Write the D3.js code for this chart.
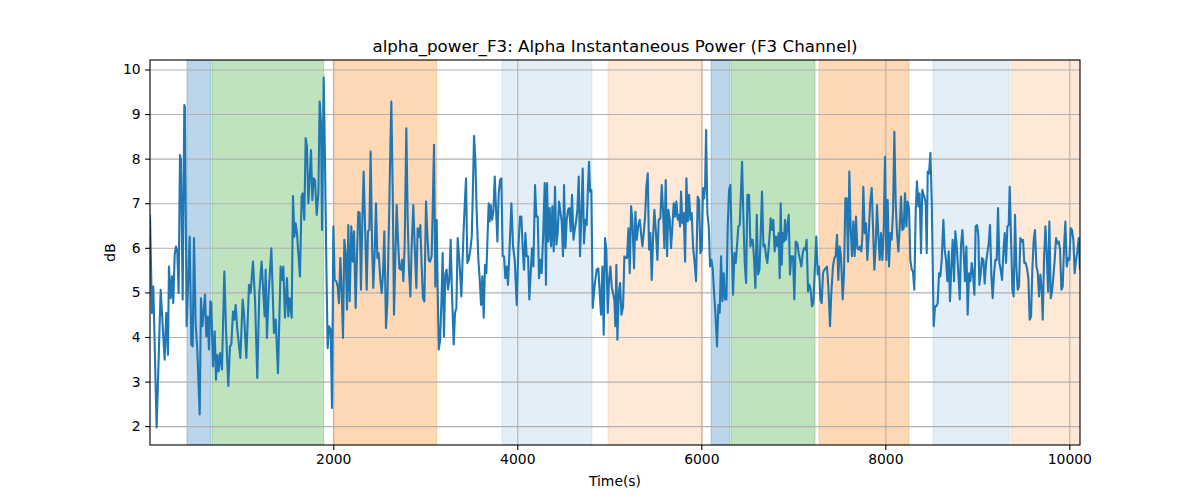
<!DOCTYPE html>
<html>
<head>
<meta charset="utf-8">
<script src="https://cdn.jsdelivr.net/npm/d3@7"></script>
<style>
  body { margin: 0; background: #fff; }
  svg { font-family: "DejaVu Sans", sans-serif; }
</style>
</head>
<body>
<div id="chart"></div>
<script>
// Chart texts
const TITLE = "alpha_power_F3: Alpha Instantaneous Power (F3 Channel)";
const X_LABEL = "Time(s)";
const Y_LABEL = "dB";

// Tick values
const xTicks = [2000, 4000, 6000, 8000, 10000];
const yTicks = [2, 3, 4, 5, 6, 7, 8, 9, 10];

// Shaded intervals (start, end, kind)
const spanStarts = [410, 682, 2000, 3834, 4986, 6106, 6323, 7280, 8519, 9367];
const spanEnds = [668, 1896, 3124, 4812, 6011, 6309, 7236, 8258, 9348, 10116];
const spanKinds = ["A", "B", "C", "D", "E", "A", "B", "C", "D", "E"];

// Series: time (s)
const times = [
  8, 29, 44, 80, 124, 167, 185, 203, 214, 232, 247, 261, 276, 290, 305, 319, 334, 345, 363, 381,
  388, 406, 439, 457, 472, 486, 504, 522, 548, 562, 577, 587, 606, 620, 635, 649, 664, 674, 692, 711,
  725, 740, 754, 769, 790, 816, 834, 859, 877, 892, 910, 924, 939, 957, 990, 1015, 1029, 1055, 1084, 1102,
  1127, 1149, 1174, 1196, 1221, 1254, 1265, 1279, 1298, 1327, 1355, 1374, 1399, 1428, 1442, 1457, 1475, 1497, 1511, 1526,
  1548, 1562, 1577, 1591, 1605, 1638, 1656, 1667,
  1685, 1700, 1714, 1729, 1743, 1758, 1772, 1787, 1801, 1820, 1838, 1852, 1867, 1878, 1896, 1910, 1925, 1939, 1954, 1972,
  1986, 2001, 2015, 2033, 2048, 2062, 2077, 2091, 2106, 2120, 2135, 2149, 2164, 2178, 2196, 2211, 2225, 2243, 2262, 2272,
  2287, 2301, 2316, 2330, 2345, 2363, 2377, 2392, 2406, 2421, 2435, 2450, 2464, 2479, 2493, 2512, 2526, 2541, 2555, 2573,
  2588, 2606, 2620, 2631, 2646, 2660, 2675, 2689, 2704, 2718, 2733, 2747, 2762, 2776, 2794, 2809, 2823, 2838, 2852, 2870,
  2885, 2903, 2917, 2932, 2946, 2961, 2975, 2990, 3008, 3022, 3037, 3051, 3069, 3080, 3095, 3109, 3124, 3135, 3146, 3160,
  3175, 3189, 3203, 3218, 3232, 3247, 3261, 3276, 3290, 3309, 3323, 3338, 3352,
  3370, 3392, 3414, 3428, 3443, 3457, 3472, 3490, 3505, 3515, 3530, 3544, 3559, 3577, 3591, 3606, 3620, 3635, 3649, 3664,
  3678, 3689, 3700, 3711, 3726, 3740, 3755, 3769, 3784, 3798, 3813, 3827, 3841, 3856, 3870, 3885, 3899, 3914, 3936, 3954,
  3972, 3994, 4012, 4030, 4044, 4059, 4073, 4088, 4102, 4117, 4131, 4146, 4160, 4175, 4193, 4207, 4222, 4236, 4251, 4265,
  4283, 4298, 4312, 4323, 4338, 4352, 4367, 4381, 4396, 4410, 4425, 4439, 4454, 4468, 4483, 4497, 4508, 4523, 4537, 4552,
  4566, 4581, 4595, 4610, 4624, 4639, 4653, 4668, 4682, 4697, 4711, 4725, 4740, 4754, 4769, 4780, 4791, 4805, 4820, 4841,
  4863, 4881, 4896, 4910, 4925, 4939, 4954, 4968, 4983, 4997, 5012, 5026,
  5055, 5066, 5077, 5088, 5103, 5117, 5132, 5150, 5164, 5179, 5193, 5208, 5222, 5237, 5251, 5269, 5284, 5298, 5313, 5331,
  5345, 5360, 5374, 5389, 5403, 5418, 5432, 5447, 5461, 5476, 5490, 5505, 5523, 5537, 5555, 5570, 5584, 5599, 5613, 5628,
  5642, 5657, 5671, 5686, 5700, 5715, 5729, 5744, 5758, 5769, 5780, 5795, 5809, 5824, 5838, 5853, 5867, 5882, 5896, 5911,
  5925, 5943, 5961, 5976, 5990, 6005, 6019, 6030, 6041, 6052, 6066, 6081, 6095, 6110, 6124, 6139, 6157, 6171, 6186, 6200,
  6215, 6229, 6244, 6258, 6273, 6287, 6302, 6316, 6331, 6345, 6360, 6374, 6389, 6403, 6418, 6432, 6443, 6458, 6472, 6487,
  6501, 6512, 6519, 6534, 6545, 6559, 6574, 6588, 6603, 6617, 6632, 6646, 6660, 6675, 6689, 6704, 6718, 6733,
  6739, 6754, 6768, 6783, 6797, 6812, 6826, 6841, 6852, 6863, 6874, 6884, 6899, 6910, 6921, 6935, 6950, 6964, 6979, 6997,
  7011, 7026, 7044, 7058, 7073, 7087, 7102, 7116, 7131, 7145, 7160, 7174, 7189, 7203, 7218, 7232, 7250, 7265, 7279, 7294,
  7308, 7323, 7337, 7352, 7366, 7381, 7399, 7413, 7431, 7446, 7460, 7475, 7489, 7504, 7518, 7537, 7551, 7566, 7580, 7595,
  7609, 7624, 7638, 7652, 7667, 7681, 7696, 7710, 7725, 7739, 7750, 7761, 7776, 7790, 7805, 7819, 7834, 7852, 7866, 7881,
  7895, 7910, 7924, 7939, 7953, 7968, 7982, 7997, 8011, 8026, 8040, 8055, 8069, 8084, 8098, 8113, 8127, 8142, 8156, 8171,
  8185, 8200, 8214, 8229, 8243, 8258, 8272, 8287, 8301, 8315, 8330, 8344, 8359, 8373, 8388, 8402, 8417,
  8424, 8439, 8450, 8461, 8475, 8490, 8504, 8526, 8540, 8555, 8569, 8584, 8598, 8613, 8631, 8645, 8660, 8674, 8689, 8703,
  8718, 8732, 8747, 8761, 8776, 8794, 8809, 8823, 8838, 8852, 8866, 8881, 8895, 8910, 8924, 8939, 8953, 8968, 8982, 8997,
  9011, 9022, 9037, 9051, 9066, 9080, 9095, 9109, 9124, 9138, 9153, 9167, 9182, 9196, 9211, 9225, 9240, 9254, 9269, 9283,
  9298, 9312, 9327, 9341, 9352, 9366, 9381, 9395, 9410, 9424, 9439, 9453, 9468, 9482, 9497, 9511, 9526, 9540, 9555, 9569,
  9584, 9598, 9613, 9627, 9642, 9656, 9671, 9685, 9700, 9711, 9725, 9740, 9754, 9769, 9783, 9798, 9812, 9827, 9841, 9856,
  9870, 9885, 9899, 9914, 9928, 9943, 9957, 9972, 9986, 10001, 10015, 10029, 10044, 10058, 10073, 10087, 10102, 10116
];

// Series: alpha power (dB)
const dbValues = [
  6.74, 4.54, 5.13, 1.97, 5.06, 3.49, 4.54, 3.6, 5.58, 4.87, 5.36, 4.76, 5.84, 6.03, 5.92, 4.99, 8.08, 7.97, 4.84, 9.2,
  9.16, 4.24, 6.25, 3.83, 3.79, 6.22, 4.31, 3.72, 2.26, 4.87, 4.24, 4.46, 4.95, 4.01, 4.46, 3.72, 4.8, 4.76, 3.34, 4.13,
  3.04, 3.6, 3.23, 3.64, 3.27, 5.47, 4.16, 2.9, 3.79, 3.83, 4.57, 4.39, 4.72, 4.16, 3.53, 4.84, 4.54, 3.53, 5.17, 4.99,
  5.69, 4.87, 3.08, 4.99, 5.69, 4.46, 5.51, 3.98, 4.99, 5.99, 4.09, 4.39, 3.19, 5.58, 5.28, 5.58, 4.43, 5.32, 4.46, 4.87,
  4.43, 7.16, 6.25, 6.55, 6.33, 5.36, 7.15, 7.22,
  6.63, 8.46, 8.27, 7.0, 7.52, 8.19, 7.07, 7.56, 7.52, 6.74, 7.22, 9.28, 8.79, 6.4, 9.82, 7.97, 5.58, 3.75, 4.24, 4.16,
  2.41, 6.48, 5.28, 5.25, 5.13, 4.76, 5.77, 5.06, 3.98, 6.18, 5.88, 4.61, 6.51, 4.8, 6.48, 5.69, 6.37, 4.65, 6.18, 6.81,
  6.78, 5.06, 6.63, 7.71, 6.51, 5.06, 6.37, 6.4, 8.16, 6.14, 5.1, 5.88, 7.0, 5.77, 5.88, 5.28, 4.99, 5.43, 6.37, 4.2,
  4.8, 6.63, 8.19, 9.28, 7.26, 4.5, 5.81, 6.96, 6.18, 5.54, 5.51, 5.73, 5.25, 6.07, 8.68, 6.63, 5.51, 4.91, 6.03, 6.96,
  6.03, 5.1, 6.44, 6.25, 6.51, 5.58, 4.87, 4.8, 7.04, 6.33, 5.73, 5.69, 5.81, 6.78, 8.31, 5.13, 6.63, 5.06, 3.72, 3.9,
  4.76, 5.88, 4.01, 5.43, 5.51, 5.06, 5.28, 6.18, 4.99, 3.83, 4.54, 4.65, 6.22,
  5.73, 4.91, 6.25, 6.93, 7.56, 5.66, 5.73, 5.96, 6.25, 7.07, 8.51, 7.97, 6.78, 5.73, 5.32, 4.72, 5.36, 4.43, 5.62, 5.43,
  6.33, 7.0, 6.59, 6.96, 6.63, 6.81, 7.6, 6.85, 6.14, 7.22, 7.52, 7.56, 5.81, 5.81, 5.32, 5.58, 5.17, 5.88, 7.0, 6.03,
  5.73, 4.72, 6.03, 6.7, 6.7, 5.99, 5.51, 6.33, 5.81, 5.81, 4.84, 5.43, 5.99, 5.58, 7.41, 6.7, 6.7, 5.32, 5.73, 5.43,
  6.4, 7.45, 5.17, 7.45, 6.14, 6.89, 6.03, 6.93, 5.92, 7.37, 6.07, 6.33, 7.04, 6.81, 6.59, 5.81, 7.41, 5.99, 6.63, 6.85,
  6.89, 6.37, 7.19, 6.18, 6.4, 6.59, 6.85, 7.6, 5.81, 6.81, 7.78, 6.1, 6.63, 6.51, 7.41, 7.93, 7.26, 7.3, 4.65, 5.17,
  5.51, 5.54, 4.99, 4.5, 5.58, 4.05, 6.22, 5.96, 4.54, 5.28, 5.58, 5.13,
  4.84, 4.24, 5.62, 3.94, 4.99, 5.21, 4.5, 4.69, 5.81, 5.77, 5.77, 6.44, 5.43, 6.93, 6.63, 5.54, 6.81, 6.18, 6.48, 6.63,
  6.33, 6.03, 6.33, 6.7, 7.37, 7.67, 5.96, 6.33, 5.28, 6.25, 6.85, 6.4, 5.73, 6.63, 6.66, 7.41, 6.85, 5.99, 7.52, 5.81,
  6.85, 6.63, 5.99, 6.48, 7.0, 6.7, 7.04, 6.63, 6.74, 6.48, 7.26, 6.55, 6.78, 5.69, 7.56, 6.59, 7.19, 6.63, 6.78, 5.99,
  5.73, 5.25, 7.15, 7.07, 5.88, 5.96, 7.34, 7.11, 7.37, 8.64, 6.78, 6.48, 5.58, 5.73, 5.54, 4.99, 4.39, 3.79, 4.72, 4.54,
  5.81, 4.8, 5.43, 4.84, 4.84, 6.48, 7.3, 7.41, 6.03, 4.95, 5.88, 5.66, 6.07, 6.48, 6.51, 7.3, 7.93, 6.63, 5.66, 5.21,
  7.19, 6.85, 7.19, 6.03, 6.18, 6.18, 5.73, 5.1, 6.74, 5.4, 5.51, 6.33, 7.26, 6.03, 6.07, 5.81, 5.66, 6.03,
  6.18, 6.66, 6.4, 6.63, 5.92, 6.25, 6.03, 6.33, 5.32, 7.0, 5.62, 6.33, 6.14, 6.63, 6.18, 6.48, 6.74, 5.4, 5.81, 5.81,
  4.84, 6.14, 6.1, 5.88, 5.73, 5.58, 5.88, 5.99, 5.96, 6.18, 5.02, 5.17, 5.06, 4.69, 4.76, 5.43, 6.25, 5.4, 5.58, 4.84,
  4.76, 5.43, 5.51, 5.54, 5.58, 5.13, 4.24, 4.99, 5.58, 5.77, 5.81, 6.29, 5.28, 6.03, 5.81, 4.84, 5.43, 7.11, 7.11, 5.69,
  7.71, 6.4, 5.81, 6.59, 5.81, 6.7, 5.99, 5.96, 6.03, 5.92, 6.22, 7.37, 6.33, 6.55, 5.73, 6.29, 6.96, 7.34, 6.48, 5.51,
  6.03, 6.96, 6.29, 5.73, 6.33, 5.73, 6.33, 8.04, 5.73, 7.07, 5.58, 6.33, 6.18, 6.81, 8.6, 7.0, 6.33, 5.92, 6.44, 7.15,
  6.4, 6.44, 7.22, 6.48, 7.04, 6.89, 5.73, 5.51, 5.47, 5.06, 6.78, 7.49, 6.93, 7.22, 5.88, 7.3, 7.19,
  7.15, 7.0, 5.88, 7.71, 7.67, 8.13, 7.07, 4.24, 4.69, 4.69, 4.76, 5.43, 5.36, 5.73, 6.63, 5.96, 5.73, 5.25, 5.92, 4.8,
  5.58, 6.18, 5.25, 6.37, 6.03, 5.43, 4.84, 6.07, 6.4, 5.88, 5.25, 6.03, 4.5, 5.43, 5.25, 5.66, 5.43, 4.95, 6.48, 6.51,
  6.29, 5.17, 5.43, 5.77, 5.73, 5.2, 5.66, 5.88, 6.1, 6.51, 5.36, 4.87, 5.43, 5.73, 5.73, 6.89, 5.66, 5.51, 5.28, 5.88,
  6.33, 5.66, 6.48, 6.51, 7.37, 6.25, 5.06, 4.91, 6.74, 5.58, 5.06, 5.13, 6.22, 6.14, 6.18, 5.66, 5.66, 5.54, 5.32, 4.39,
  4.46, 5.51, 6.18, 6.4, 5.58, 5.47, 4.91, 5.4, 5.06, 4.39, 5.73, 6.48, 5.88, 5.02, 6.59, 4.87, 5.02, 5.36, 5.73, 6.22,
  6.1, 6.14, 5.96, 5.06, 5.13, 6.03, 6.59, 5.58, 5.77, 5.73, 6.44, 6.4, 6.18, 5.43, 5.73, 5.92, 6.22, 5.51
];

// Layout and styles
const WIDTH = 1200;
const HEIGHT = 500;
const PLOT = { left: 150, right: 1080, top: 60, bottom: 445 };
const LINE_COLOR = "#1f77b4";
const GRID_COLOR = "#b0b0b0";
const SPAN_STYLE = {
  A: { color: "#1f77b4", alpha: 0.3 },
  B: { color: "#2ca02c", alpha: 0.3 },
  C: { color: "#ff7f0e", alpha: 0.3 },
  D: { color: "#1f77b4", alpha: 0.12 },
  E: { color: "#ff7f0e", alpha: 0.17 }
};

const data = times.map((t, i) => ({ t: t, v: dbValues[i] }));

// Scales (matplotlib style 5% margin on y)
const vMin = d3.min(dbValues);
const vMax = d3.max(dbValues);
const vPad = (vMax - vMin) * 0.05;

const x = d3.scaleLinear()
  .domain([times[0], times[times.length - 1]])
  .range([PLOT.left, PLOT.right]);

const y = d3.scaleLinear()
  .domain([vMin - vPad, vMax + vPad])
  .range([PLOT.bottom, PLOT.top]);

const svg = d3.select("#chart")
  .append("svg")
  .attr("width", WIDTH)
  .attr("height", HEIGHT);

svg.append("defs").append("clipPath")
  .attr("id", "plot-clip")
  .append("rect")
  .attr("x", PLOT.left)
  .attr("y", PLOT.top)
  .attr("width", PLOT.right - PLOT.left)
  .attr("height", PLOT.bottom - PLOT.top);

const plot = svg.append("g").attr("clip-path", "url(#plot-clip)");

// Shaded spans
spanStarts.forEach((s, i) => {
  const st = SPAN_STYLE[spanKinds[i]];
  plot.append("rect")
    .attr("x", x(s))
    .attr("y", PLOT.top)
    .attr("width", x(spanEnds[i]) - x(s))
    .attr("height", PLOT.bottom - PLOT.top)
    .attr("fill", st.color)
    .attr("fill-opacity", st.alpha)
    .attr("stroke", st.color)
    .attr("stroke-opacity", st.alpha)
    .attr("stroke-width", 1);
});

// Grid lines
const xGrid = d3.axisBottom(x)
  .tickValues(xTicks)
  .tickSize(-(PLOT.bottom - PLOT.top))
  .tickFormat("");
plot.append("g")
  .attr("transform", `translate(0,${PLOT.bottom})`)
  .call(xGrid)
  .call(g => g.select(".domain").remove())
  .call(g => g.selectAll("line").attr("stroke", GRID_COLOR).attr("stroke-width", 1.1));

const yGrid = d3.axisLeft(y)
  .tickValues(yTicks)
  .tickSize(-(PLOT.right - PLOT.left))
  .tickFormat("");
plot.append("g")
  .attr("transform", `translate(${PLOT.left},0)`)
  .call(yGrid)
  .call(g => g.select(".domain").remove())
  .call(g => g.selectAll("line").attr("stroke", GRID_COLOR).attr("stroke-width", 1.1));

// Data line
const line = d3.line()
  .x(d => x(d.t))
  .y(d => y(d.v));

plot.append("path")
  .datum(data)
  .attr("fill", "none")
  .attr("stroke", LINE_COLOR)
  .attr("stroke-width", 2.1)
  .attr("stroke-linejoin", "round")
  .attr("d", line);

// Axes
const xAxis = d3.axisBottom(x)
  .tickValues(xTicks)
  .tickSize(4.9)
  .tickPadding(4)
  .tickFormat(d3.format("d"));
svg.append("g")
  .attr("transform", `translate(0,${PLOT.bottom})`)
  .call(xAxis)
  .call(g => g.select(".domain").remove())
  .call(g => g.selectAll("line").attr("stroke", "#000").attr("stroke-width", 1.1))
  .call(g => g.selectAll("text").attr("fill", "#000").style("font-size", "13.9px").style("font-family", "DejaVu Sans"));

const yAxis = d3.axisLeft(y)
  .tickValues(yTicks)
  .tickSize(4.9)
  .tickPadding(4.5)
  .tickFormat(d3.format("d"));
svg.append("g")
  .attr("transform", `translate(${PLOT.left},0)`)
  .call(yAxis)
  .call(g => g.select(".domain").remove())
  .call(g => g.selectAll("line").attr("stroke", "#000").attr("stroke-width", 1.1))
  .call(g => g.selectAll("text").attr("fill", "#000").style("font-size", "13.9px").style("font-family", "DejaVu Sans"));

// Frame
svg.append("rect")
  .attr("x", PLOT.left)
  .attr("y", PLOT.top)
  .attr("width", PLOT.right - PLOT.left)
  .attr("height", PLOT.bottom - PLOT.top)
  .attr("fill", "none")
  .attr("stroke", "#000")
  .attr("stroke-width", 1.1);

// Title and labels
svg.append("text")
  .attr("x", (PLOT.left + PLOT.right) / 2)
  .attr("y", 52)
  .attr("text-anchor", "middle")
  .style("font-size", "16.7px")
  .text(TITLE);

svg.append("text")
  .attr("x", (PLOT.left + PLOT.right) / 2)
  .attr("y", 486)
  .attr("text-anchor", "middle")
  .style("font-size", "13.9px")
  .text(X_LABEL);

svg.append("text")
  .attr("transform", `translate(115,${(PLOT.top + PLOT.bottom) / 2}) rotate(-90)`)
  .attr("text-anchor", "middle")
  .style("font-size", "13.9px")
  .text(Y_LABEL);
</script>
</body>
</html>
